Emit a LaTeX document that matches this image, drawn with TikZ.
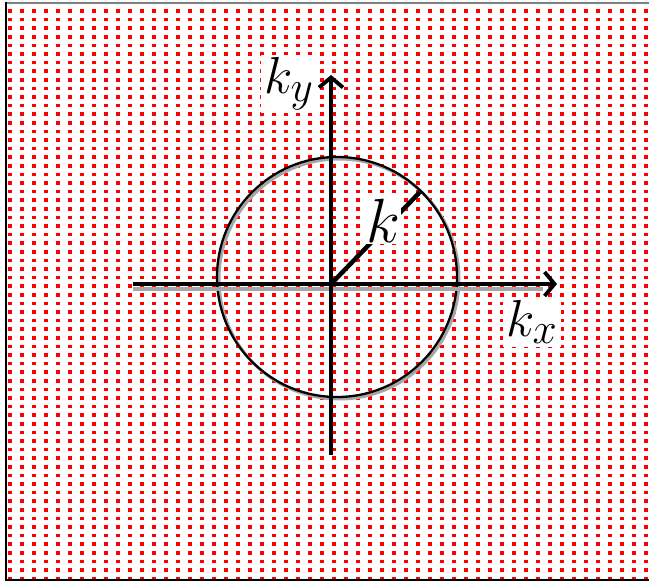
\documentclass[tikz,border=0pt]{standalone}
\usetikzlibrary{positioning, arrows.meta}

\begin{document}
\begin{tikzpicture}[x=1bp, y=-1bp,
  axis/.style = {line width=4.8bp, -{Straight Barb[length=10bp, width=24bp, line width=3.8bp]}},
  axislabel/.style = {fill=white, inner sep=1.5bp, font=\Huge, scale=2.1}
]
  \useasboundingbox (0,0) rectangle (649,582);

  % Red dot grid in the background
  \foreach \col in {0,...,53} {
    \foreach \row in {0,...,66} {
      \fill[red] ({10+12*\col-1.8},{11+8.6*\row-1.8}) rectangle +(3.6,3.6);
    }
  }

  % Frame
  \draw[gray, line width=1.5bp] (6,3) -- (652,3);
  \draw[line width=1.5bp] (6,2) -- (6,580) -- (652,580);

  % Place the axis points
  \coordinate (orig) at (331,284);
  \coordinate (x_start) at (133,284);
  \coordinate (x_end) at (557,284);
  \coordinate (y_start) at (331,455);
  \coordinate (y_end) at (331,75);
  \coordinate (centre) at (337,277);
  \coordinate (rim) at (420,192);

  % Circle with its shadow
  \draw[gray!70, line width=3bp] ([shift={(2,2)}]centre) circle [radius=120bp];
  \draw[line width=2.3bp] (centre) circle [radius=120bp];

  % Draw the axes
  \draw[gray!70, line width=4bp] ([yshift=-4.5bp]x_start) -- ([yshift=-4.5bp,xshift=-14bp]x_end);
  \draw[axis] (x_start) -- (x_end);
  \draw[axis] (y_start) -- (y_end);

  % Radius and labels
  \draw[line width=4.5bp] (orig) -- (rim);
  \node[axislabel, scale=1.2, inner sep=0.5bp] (k_r) at (383,221) {$k$};
  \node[axislabel] (k_y) at (289,84) {$k_y$};
  \node[axislabel] (k_x) at (532,322) {$k_x$};
\end{tikzpicture}
\end{document}
